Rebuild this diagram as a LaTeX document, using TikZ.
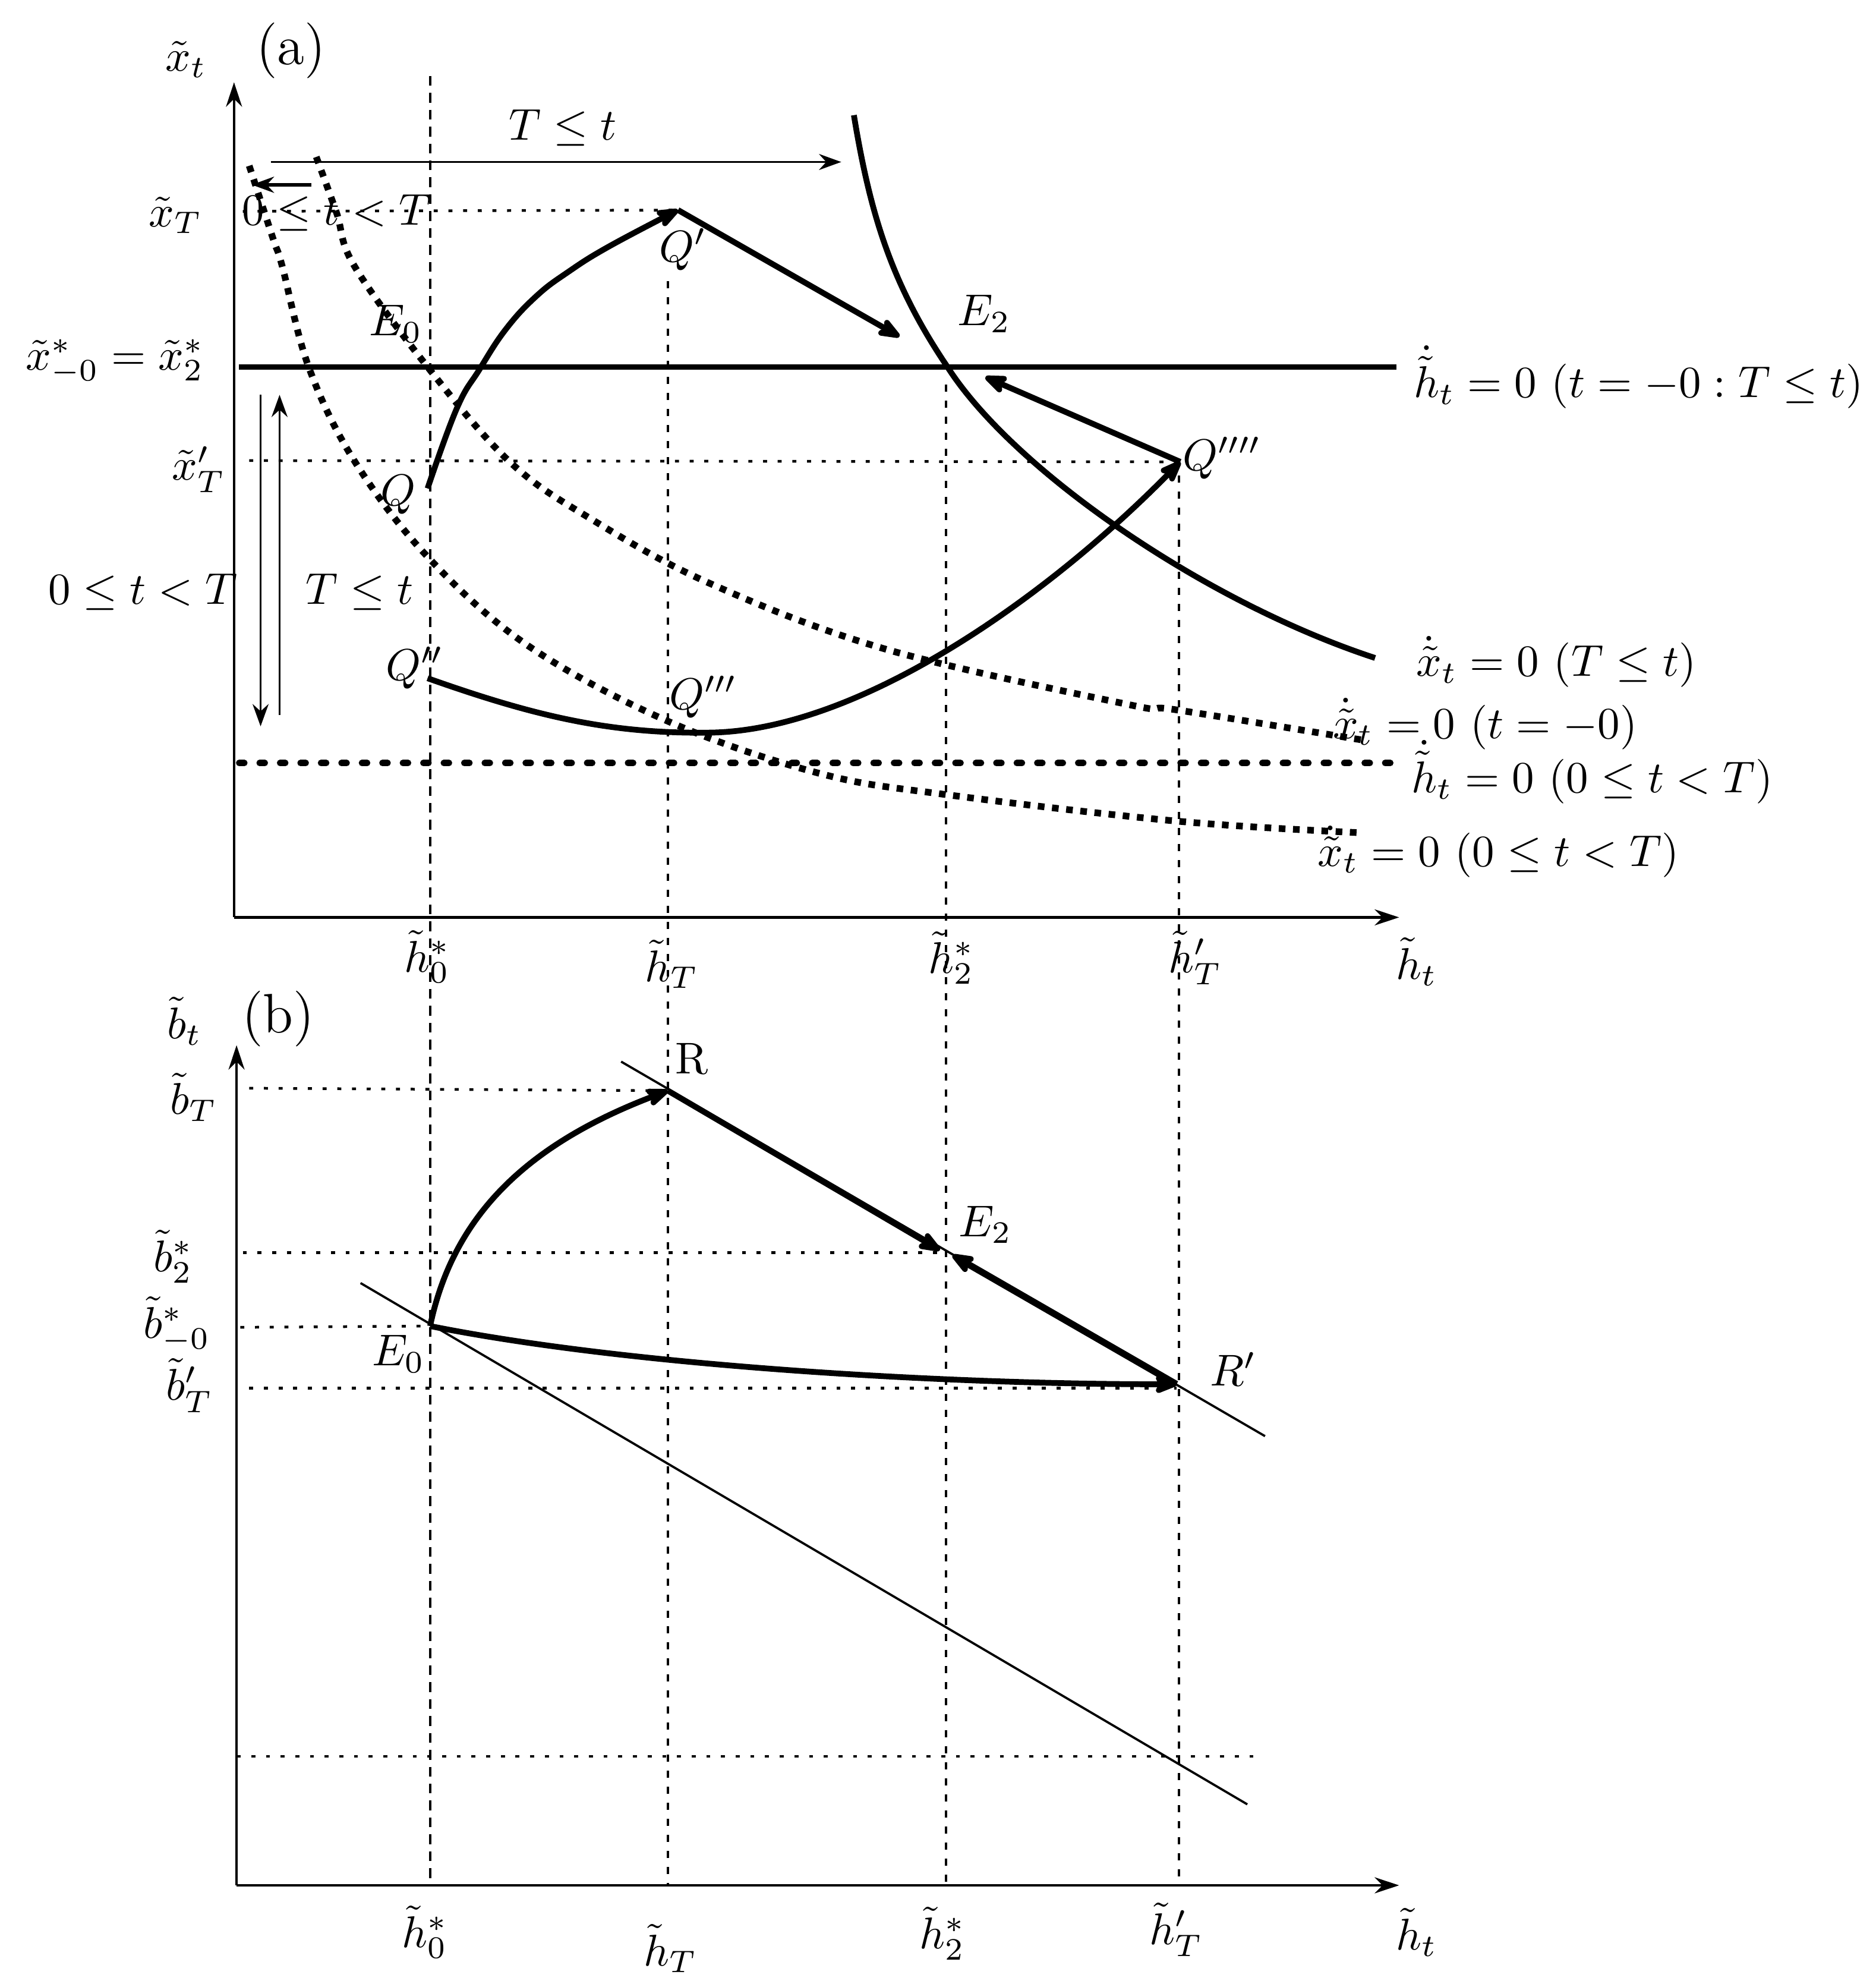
\documentclass[tikz,border=0pt]{standalone}
\usetikzlibrary{arrows.meta}
\begin{document}
\begin{tikzpicture}[x=0.01cm,y=-0.01cm,
  lbl/.style={inner sep=0pt,font=\fontsize{10}{12}\selectfont},
  biglbl/.style={inner sep=0pt,font=\fontsize{12.5}{15}\selectfont},
  axis/.style={line width=0.6pt,-{Stealth[length=5.5pt,width=3.6pt]}},
  thinarr/.style={line width=0.5pt,-{Stealth[length=5pt,width=3.6pt]}},
  thickc/.style={line width=1.3pt},
  thickarr/.style={line width=1.3pt,-{Stealth[length=6.5pt,width=5pt,inset=1.5pt,round]}},
  dotc/.style={line width=1.5pt,dash pattern=on 1.5pt off 1.7pt},
  dashc/.style={line width=1.4pt,line cap=round,dash pattern=on 1.2pt off 3.4pt},
  guide/.style={line width=0.6pt,dash pattern=on 0.9pt off 2.4pt},
  vguideA/.style={line width=0.5pt,dash pattern=on 2.2pt off 1.6pt},
  vguide/.style={line width=0.5pt,dash pattern=on 1.6pt off 2pt},
  thinl/.style={line width=0.5pt}]
\useasboundingbox (0,0) rectangle (1483,1568);

% ---------- key coordinates ----------
\coordinate (Ao) at (185,725); \coordinate (Ay) at (185,65); \coordinate (Ax) at (1106,725);
\coordinate (Bo) at (187,1490); \coordinate (By) at (187,826); \coordinate (Bx) at (1106,1490);
\coordinate (v0t) at (340,60);  \coordinate (v0b) at (340,1490);
\coordinate (vTt) at (528,222); \coordinate (vTb) at (528,1490);
\coordinate (v2t) at (748,304); \coordinate (v2b) at (748,1490);
\coordinate (vPt) at (932,376); \coordinate (vPb) at (932,1490);

\coordinate (Q) at (338,386);
\coordinate (Qp) at (536,166);
\coordinate (Qpp) at (338,536);
\coordinate (Qppp) at (560,579);
\coordinate (Qpppp) at (933,365);
\coordinate (QpEnd) at (711,266);
\coordinate (QppppEnd) at (779,298);
\coordinate (E2a) at (749,290);
\coordinate (xcTop) at (675,91);
\coordinate (xcEnd) at (1087,520);

% ---------- panel (a) guides ----------
\draw[vguideA] (v0t) -- (v0b);
\draw[vguide] (vTt) -- (vTb);
\draw[vguide] (v2t) -- (v2b);
\draw[vguide] (vPt) -- (vPb);

\coordinate (gxTa) at (192,167);
\draw[guide] (gxTa) -- (Qp);
\coordinate (gxpa) at (197,364);
\draw[guide] (gxpa) -- (Qpppp);

% axes (a)
\draw[axis] (Ao) -- (Ay);
\draw[axis] (Ao) -- (Ax);

% nullclines
\coordinate (h1a) at (189,290); \coordinate (h1b) at (1104,290);
\draw[thickc] (h1a) -- (h1b);
\coordinate (h2a) at (189,603); \coordinate (h2b) at (1106,603);
\draw[dashc] (h2a) -- (h2b);

\draw[thickc] (xcTop) .. controls (688,170) and (705,225) .. (E2a)
   .. controls (800,370) and (950,475) .. (xcEnd);
\draw[dotc] plot[smooth,tension=0.6] coordinates {(250,124) (266,168) (280,210) (338,290) (403,365) (467,410) (561,461) (700,513) (893,557) (930,561) (1078,585)};
\draw[dotc] plot[smooth,tension=0.6] coordinates {(197,131) (216,189) (223,210) (244,290) (280,364) (338,440) (417,510) (528,570) (647,611) (748,628) (931,649) (1073,658)};

% trajectories
\draw[thickarr] plot[smooth,tension=0.7] coordinates {(Q) (361,323) (379,292) (400,260) (424,234) (449,215) (481,195) (Qp)};
\draw[thickarr] (Qp) -- (QpEnd);
\draw[thickarr] (Qpp) .. controls (420,565) and (480,580) .. (Qppp)
   .. controls (680,578) and (830,470) .. (Qpppp);
\draw[thickarr] (Qpppp) -- (QppppEnd);

% direction arrows
\coordinate (tTa) at (214,128); \coordinate (tTb) at (665,128);
\draw[thinarr] (tTa) -- (tTb);
\coordinate (tsa) at (246,146); \coordinate (tsb) at (199,146);
\draw[line width=0.8pt,-{Stealth[length=5pt,width=3.6pt]}] (tsa) -- (tsb);
\coordinate (dna) at (206,312); \coordinate (dnb) at (206,574);
\draw[thinarr] (dna) -- (dnb);
\coordinate (upa) at (221,565); \coordinate (upb) at (221,312);
\draw[thinarr] (upa) -- (upb);

% labels (a)
\node[lbl] (xtlab) at (147,47) {$\tilde{x}_t$};
\node[biglbl] (alab) at (230,40) {(a)};
\node[lbl] (TtTop) at (445,101) {$T\leq t$};
\node[lbl] (ttTop) at (266,168) {$0\leq t<T$};
\node[lbl] (xTlab) at (139,170) {$\tilde{x}_T$};
\node[lbl] (xslab) at (91,286) {$\tilde{x}^*_{-0}=\tilde{x}^*_2$};
\node[lbl] (xpTlab) at (157,371) {$\tilde{x}'_T$};
\node[lbl] (l1) at (113,468) {$0\leq t<T$};
\node[lbl] (l2) at (284,468) {$T\leq t$};
\node[lbl] (E0lab) at (313,256) {$E_0$};
\node[lbl] (E2lab) at (778,248) {$E_2$};
\node[lbl] (Qlab) at (315,391) {$Q$};
\node[lbl] (Qplab) at (540,197) {$Q'$};
\node[lbl] (Qpplab) at (328,528) {$Q''$};
\node[lbl] (Qppplab) at (556,551) {$Q'''$};
\node[lbl] (Qpppplab) at (966,362) {$Q''''$};

\node[lbl,anchor=west] (n1) at (1117,298) {$\dot{\tilde{h}}_t=0\ (t=-0:T\leq t)$};
\node[lbl,anchor=west] (n2) at (1119,523) {$\dot{\tilde{x}}_t=0\ (T\leq t)$};
\node[lbl,anchor=west] (n3) at (1053,572) {$\dot{\tilde{x}}_t=0\ (t=-0)$};
\node[lbl,anchor=west] (n4) at (1115,610) {$\dot{\tilde{h}}_t=0\ (0\leq t<T)$};
\node[lbl,anchor=west] (n5) at (1041,673) {$\dot{\tilde{x}}_t=0\ (0\leq t<T)$};

\node[lbl] (ha0) at (338,756) {$\tilde{h}^*_0$};
\node[lbl] (haT) at (531,762) {$\tilde{h}_T$};
\node[lbl] (ha2) at (752,757) {$\tilde{h}^*_2$};
\node[lbl] (hap) at (945,757) {$\tilde{h}'_T$};
\node[lbl] (hat) at (1120,760) {$\tilde{h}_t$};

% ---------- panel (b) ----------
\coordinate (E0b) at (340,1048);
\coordinate (Rb) at (528,862);
\coordinate (E2b) at (748,990);
\coordinate (Rpb) at (930,1094);
\coordinate (E2bl) at (743,988);
\coordinate (E2br) at (753,992);

\coordinate (gbTa) at (197,860); \draw[guide] (gbTa) -- (Rb);
\coordinate (gb2a) at (192,990); \draw[guide] (gb2a) -- (E2b);
\coordinate (gb0a) at (190,1049); \draw[guide] (gb0a) -- (E0b);
\coordinate (gbpa) at (197,1097); \coordinate (gbpb) at (930,1097); \draw[guide] (gbpa) -- (gbpb);
\coordinate (gbla) at (187,1388); \coordinate (gblb) at (998,1388); \draw[guide] (gbla) -- (gblb);

\draw[axis] (Bo) -- (By);
\draw[axis] (Bo) -- (Bx);

\coordinate (L1a) at (491,839); \coordinate (L1b) at (1000,1135);
\draw[thinl] (L1a) -- (L1b);
\coordinate (L2a) at (285,1014); \coordinate (L2b) at (986,1426);
\draw[thinl] (L2a) -- (L2b);

\draw[thickarr] (E0b) .. controls (358,962) and (415,905) .. (Rb);
\draw[thickarr] (Rb) -- (E2bl);
\draw[thickarr] (E0b) .. controls (500,1080) and (750,1094) .. (Rpb);
\draw[line width=1.5pt,-{Stealth[length=6.5pt,width=5pt,inset=1.5pt,round]}] (Rpb) -- (E2br);

\node[lbl] (btlab) at (146,807) {$\tilde{b}_t$};
\node[biglbl] (blab) at (220,805) {(b)};
\node[lbl] (bTlab) at (153,867) {$\tilde{b}_T$};
\node[lbl] (b2lab) at (137,993) {$\tilde{b}^*_2$};
\node[lbl] (b0lab) at (140,1047) {$\tilde{b}^*_{-0}$};
\node[lbl] (bplab) at (150,1095) {$\tilde{b}'_T$};
\node[lbl] (Rlab) at (547,837) {R};
\node[lbl] (E2blab) at (779,968) {$E_2$};
\node[lbl] (Rplab) at (975,1082) {$R'$};
\node[lbl] (E0blab) at (315,1070) {$E_0$};

\node[lbl] (hb0) at (336,1527) {$\tilde{h}^*_0$};
\node[lbl] (hbT) at (530,1540) {$\tilde{h}_T$};
\node[lbl] (hb2) at (745,1528) {$\tilde{h}^*_2$};
\node[lbl] (hbp) at (930,1525) {$\tilde{h}'_T$};
\node[lbl] (hbt) at (1120,1527) {$\tilde{h}_t$};
\end{tikzpicture}
\end{document}
